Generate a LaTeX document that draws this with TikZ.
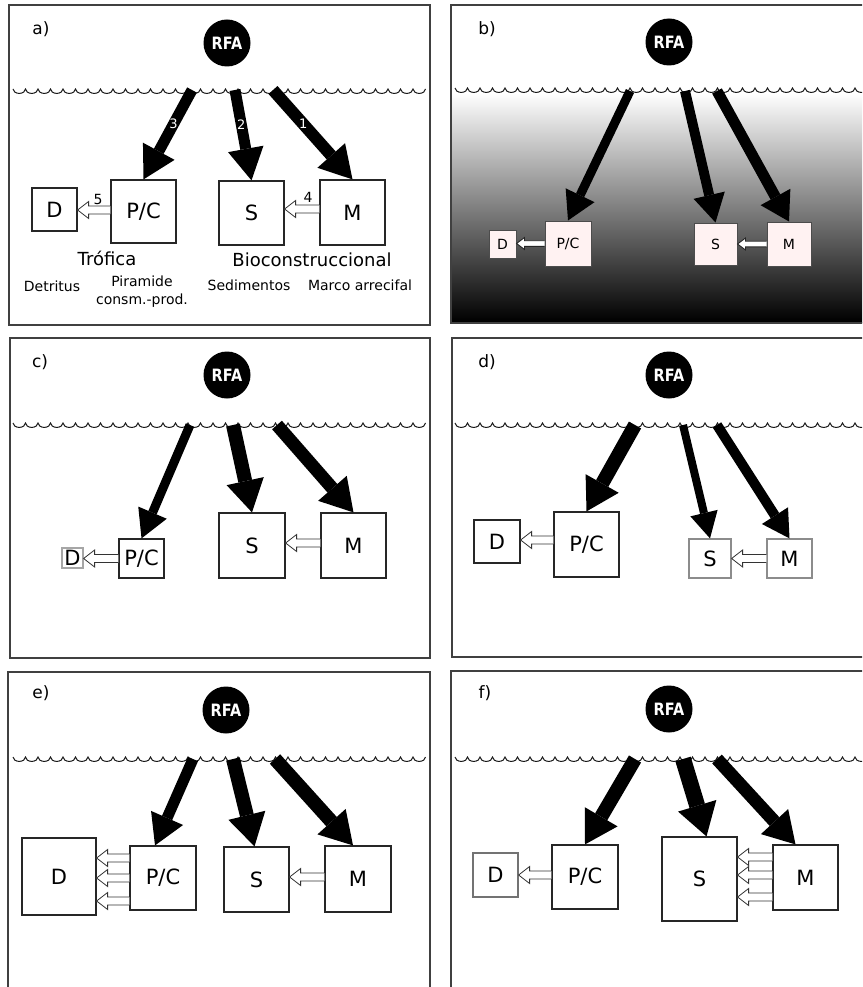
\documentclass[tikz,border=0pt]{standalone}
\usepackage{fontspec}
\setmainfont{DejaVu Sans}
\newfontfamily\rfafont[FakeStretch=0.85]{DejaVu Sans}
\usetikzlibrary{arrows.meta,calc}
\newcommand\wavy[2]{\draw[wave] (#1,#2) \foreach \i in {1,...,33} {arc[start angle=180,end angle=0,x radius=6.25,y radius=4.4]};}
\begin{document}
\begin{tikzpicture}[x=1pt,y=-1pt,
  frame/.style={draw=black!75, line width=1.2pt},
  panellabel/.style={font=\fontsize{17}{17}\selectfont, inner sep=0},
  rfa/.style={circle, fill=black, minimum size=47pt, inner sep=0, text=white, font=\rfafont\bfseries\fontsize{17}{17}\selectfont},
  wave/.style={draw=black!90, line width=1pt},
  bx/.style 2 args={draw=black!85, line width=1.2pt, fill=white, inner sep=0, minimum width=#1pt, minimum height=#2pt, font=\fontsize{21}{21}\selectfont},
  sbx/.style 2 args={bx={#1}{#2}, fill=red!5, draw=black!70, line width=1pt, font=\fontsize{14}{14}\selectfont},
  big/.style n args={3}{line width=#1pt, -{Triangle[width=#2pt,length=#3pt,line width=0pt]}},
  num/.style={text=white, font=\fontsize{13}{13}\selectfont, inner sep=0, pos=0.38},
  lbl/.style={font=\fontsize{14}{14}\selectfont, inner sep=0},
  big text/.style={font=\fontsize{18}{18}\selectfont, inner sep=0},
  small text/.style={font=\fontsize{14}{18}\selectfont, inner sep=0, align=center},
  hollow/.style={draw=black!80, fill=white, line width=0.8pt, to path={let \p1=(\tikztostart), \p2=(\tikztotarget) in (\x1,\y1+4pt) -- (\x2+11pt,\y1+4pt) -- (\x2+11pt,\y1+8.5pt) -- (\x2,\y1) -- (\x2+11pt,\y1-8.5pt) -- (\x2+11pt,\y1-4pt) -- (\x1,\y1-4pt)}},
  hollowsmall/.style={draw=black!85, fill=white, line width=0.9pt, to path={let \p1=(\tikztostart), \p2=(\tikztotarget) in (\x1,\y1+2.8pt) -- (\x2+8pt,\y1+2.8pt) -- (\x2+8pt,\y1+6pt) -- (\x2,\y1) -- (\x2+8pt,\y1-6pt) -- (\x2+8pt,\y1-2.8pt) -- (\x1,\y1-2.8pt)}}
]
\useasboundingbox (0,0) rectangle (862,987);
\clip (0,0) rectangle (862,987);

% ---------------- panel a
\draw[frame] (9,5) rectangle (430,325);
\node[panellabel] (la) at (41,29) {a)};
\node[rfa] (ra) at (227,43) {RFA};
\wavy{13}{89}
\coordinate (a3) at (192,90); \coordinate (a2) at (235,90); \coordinate (a1) at (273,90);
\node[bx={45}{43}] (aD) at (54.5,209.5) {D};
\node[bx={65}{63}] (aP) at (143.5,211.5) {P/C};
\node[bx={65}{64}] (aS) at (251.5,213) {S};
\node[bx={65}{65}] (aM) at (352.5,212.5) {M};
\draw[big={11}{36}{32}] (a3) -- node[num]{3} (aP.north);
\draw[big={11}{36}{32}] (a2) -- node[num]{2} (aS.north);
\draw[big={12}{37}{32}] (a1) -- node[num]{1} (aM.north);
\path[hollow] ([yshift=1.5pt]aP.west) to (aD.east);
\path[hollow] ([yshift=3.5pt]aM.west) to (aS.east);
\node[lbl] (a5) at (98,199) {5};
\node[lbl] (a4) at (308,197) {4};
\node[big text] (atro) at (107,258) {Trófica};
\node[big text] (abio) at (312,260) {Bioconstruccional};
\node[small text] (adet) at (52,286) {Detritus};
\node[small text] (apir) at (142,292) {Piramide\\consm.-prod.};
\node[small text] (ased) at (249,285) {Sedimentos};
\node[small text] (amar) at (360,285) {Marco arrecifal};

% ---------------- panel b
\shade[top color=white, bottom color=black] (452,93) rectangle (880,322);
\draw[frame] (451,5) rectangle (900,323);
\node[panellabel] (lb) at (487,29) {b)};
\node[rfa] (rb) at (669,42) {RFA};
\wavy{455}{88}
\coordinate (b3) at (630,91); \coordinate (b2) at (685,91); \coordinate (b1) at (717,91);
\node[sbx={27}{28}] (bD) at (502.5,244) {D};
\node[sbx={46}{45}] (bP) at (568,243.5) {P/C};
\node[sbx={43}{42}] (bS) at (715.5,244) {S};
\node[sbx={44}{44}] (bM) at (789,244) {M};
\draw[big={9}{32}{28}] (b3) -- (bP.north);
\draw[big={10}{32}{28}] (b2) -- (bS.north);
\draw[big={11}{34}{28}] (b1) -- (bM.north);
\path[hollowsmall] (bP.west) to (bD.east);
\path[hollowsmall] (bM.west) to (bS.east);

% ---------------- panel c
\draw[frame] (10,338) rectangle (430,658);
\node[panellabel] (lc) at (40,362) {c)};
\node[rfa] (rc) at (227,375) {RFA};
\wavy{13}{423}
\coordinate (c3) at (190,425); \coordinate (c2) at (233,425); \coordinate (c1) at (277,425);
\node[bx={21}{20}, draw=black!35] (cD) at (72.5,558) {D};
\node[bx={45}{39}] (cP) at (141.5,558.5) {P/C};
\node[bx={66}{65}] (cS) at (252,545.5) {S};
\node[bx={65}{65}] (cM) at (353.5,545.5) {M};
\draw[big={9}{31}{28}] (c3) -- (cP.north);
\draw[big={14}{38}{32}] (c2) -- (cS.north);
\draw[big={13}{38}{32}] (c1) -- (cM.north);
\path[hollow] (cP.west) to (cD.east);
\path[hollow] ([yshift=2.5pt]cM.west) to (cS.east);

% ---------------- panel d
\draw[frame] (452,338) rectangle (900,657);
\node[panellabel] (ld) at (487,362) {d)};
\node[rfa] (rd) at (669,375) {RFA};
\wavy{455}{423}
\coordinate (d3) at (635,425); \coordinate (d2) at (683,425); \coordinate (d1) at (717,425);
\node[bx={46}{43}] (dD) at (497,541.5) {D};
\node[bx={65}{65}] (dP) at (586.5,544.5) {P/C};
\node[bx={42}{39}, draw=black!45] (dS) at (710,558.5) {S};
\node[bx={45}{39}, draw=black!45] (dM) at (789.5,558.5) {M};
\draw[big={14}{38}{32}] (d3) -- (dP.north);
\draw[big={8}{28}{26}] (d2) -- (dS.north);
\draw[big={10}{31}{27}] (d1) -- (dM.north);
\path[hollow] ([yshift=4.5pt]dP.west) to (dD.east);
\path[hollow] (dM.west) to (dS.east);

% ---------------- panel e
\draw[frame] (8,672) rectangle (430,1000);
\node[panellabel] (le) at (41,693) {e)};
\node[rfa] (re) at (226,710) {RFA};
\wavy{13}{757}
\coordinate (e3) at (193,759); \coordinate (e2) at (233,759); \coordinate (e1) at (275,759);
\node[bx={74}{77}] (eD) at (59,876.5) {D};
\node[bx={66}{64}] (eP) at (163,878) {P/C};
\node[bx={65}{65}] (eS) at (256.5,879.5) {S};
\node[bx={66}{66}] (eM) at (358,879) {M};
\draw[big={11}{35}{30}] (e3) -- ([xshift=-8pt]eP.north);
\draw[big={14}{38}{32}] (e2) -- ([xshift=-2pt]eS.north);
\draw[big={14}{38}{32}] (e1) -- ([xshift=-5pt]eM.north);
\path[hollow] ([yshift=20pt]eP.west) to (eD.east);
\path[hollow] (eP.west) to (eD.east);
\path[hollow] ([yshift=-23pt]eP.west) to (eD.east);
\path[hollow] ([yshift=2pt]eM.west) to (eS.east);

% ---------------- panel f
\draw[frame] (451,671) rectangle (900,1000);
\node[panellabel] (lf) at (485,693) {f)};
\node[rfa] (rf) at (669,709) {RFA};
\wavy{455}{757}
\coordinate (f3) at (635,759); \coordinate (f2) at (683,759); \coordinate (f1) at (717,759);
\node[bx={45}{44}, draw=black!55] (fD) at (495.5,875) {D};
\node[bx={66}{64}] (fP) at (585,877) {P/C};
\node[bx={75}{84}] (fS) at (699.5,879) {S};
\node[bx={65}{65}] (fM) at (805.5,877.5) {M};
\draw[big={14}{38}{32}] (f3) -- (fP.north);
\draw[big={16}{40}{32}] (f2) -- ([xshift=7pt]fS.north);
\draw[big={13}{37}{31}] (f1) -- ([xshift=-10pt]fM.north);
\path[hollow] ([yshift=2pt]fP.west) to (fD.east);
\path[hollow] ([yshift=20.5pt]fM.west) to (fS.east);
\path[hollow] ([yshift=2.5pt]fM.west) to (fS.east);
\path[hollow] ([yshift=-19.5pt]fM.west) to (fS.east);
\end{tikzpicture}
\end{document}
